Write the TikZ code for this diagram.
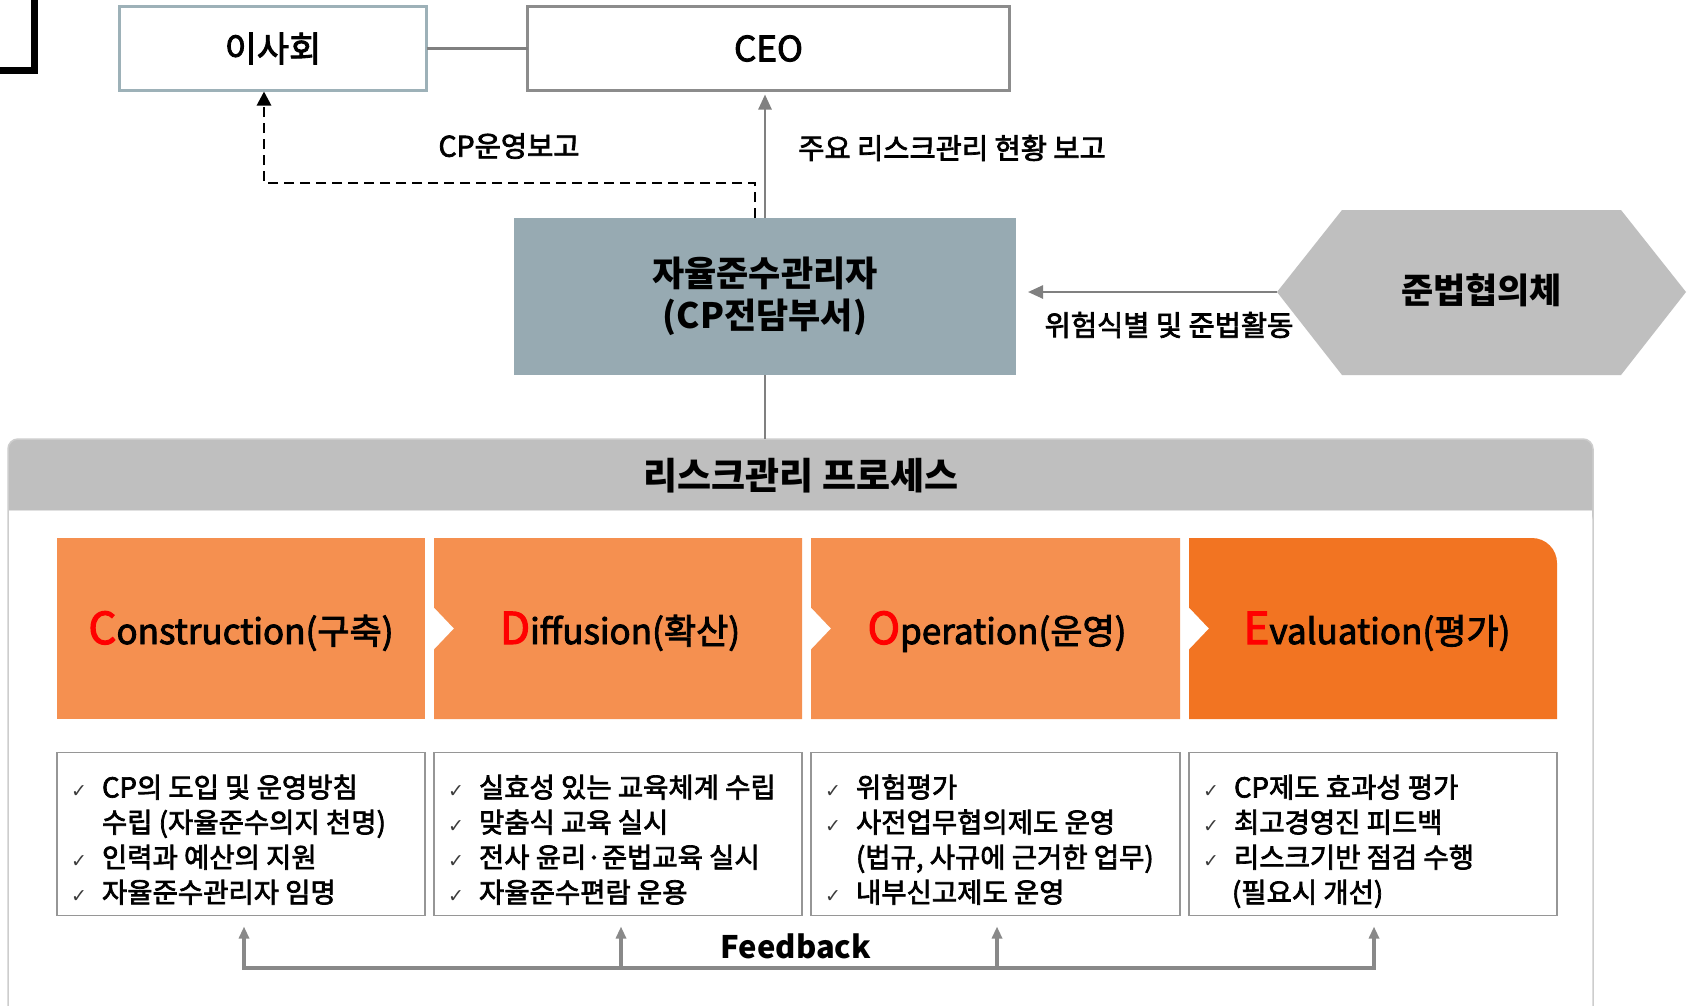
\documentclass[tikz,border=0pt]{standalone}
\usepackage{fontspec}
\setmainfont{Noto Sans CJK KR}
\newfontfamily\medfont[FakeBold=2.5]{Noto Sans CJK KR}
\newfontfamily\symfont{DejaVu Sans}
\usetikzlibrary{arrows.meta}
\newcommand{\setfs}[1]{\fontsize{#1}{#1}\selectfont}
\definecolor{boardline}{RGB}{157,177,184}
\definecolor{ceoline}{RGB}{140,140,140}
\definecolor{cpfill}{RGB}{151,170,178}
\definecolor{hexfill}{RGB}{191,191,191}
\definecolor{hdrfill}{RGB}{191,191,191}
\definecolor{orlight}{RGB}{245,144,80}
\definecolor{ordark}{RGB}{242,116,34}
\definecolor{arrowgray}{RGB}{128,128,128}
\definecolor{boxline}{RGB}{150,150,150}
\definecolor{panelline}{RGB}{205,205,205}
\definecolor{redletter}{RGB}{255,0,0}
\definecolor{checkgray}{RGB}{60,60,60}
\definecolor{fbgray}{RGB}{137,137,137}
\newcommand{\ck}[4]{\node[chk] (#1c) at (#2+14,#3) {✓}; \node[item] (#1) at (#2+45,#3) {#4};}
\newcommand{\rl}[1]{\textcolor{redletter}{\fontsize{44}{44}\selectfont #1}}
\begin{document}
\begin{tikzpicture}[x=1pt,y=-1pt,
  every node/.style={inner sep=0pt, outer sep=0pt},
  topbox/.style={draw, line width=3pt, minimum height=84pt, font=\medfont\setfs{35}},
  lbl/.style={font=\medfont\setfs{28.5}},
  grayln/.style={draw=arrowgray, line width=2.5pt},
  grayarr/.style={grayln, -{Triangle[length=15pt,width=13pt]}},
  dasharr/.style={draw=black, line width=2.8pt, dash pattern=on 10pt off 6pt, -{Triangle[length=14pt,width=14pt]}},
  title/.style={font=\medfont\setfs{35}, anchor=base},
  listbox/.style={draw=boxline, line width=1.5pt, minimum width=368pt, minimum height=163pt},
  item/.style={font=\medfont\setfs{27.5}, anchor=base west},
  chk/.style={font=\symfont\setfs{19}, text=checkgray, anchor=base west},
  fbln/.style={draw=fbgray, line width=3.5pt},
  fbtip/.style={-{Triangle[length=12pt,width=10pt]}},
]
\useasboundingbox (0,0) rectangle (1696,1005);
\clip (0,0) rectangle (1696,1005);
\fill[white] (0,0) rectangle (1696,1005);

% corner bracket
\draw[line width=7pt, line join=miter] (34,-10) -- (34,70.5) -- (-10,70.5);

% top boxes
\node[topbox, draw=boardline, minimum width=307pt] (board) at (273,48.5) {이사회};
\node[topbox, draw=ceoline, minimum width=482pt] (ceo) at (768.5,48.5) {CEO};
\draw[grayln] (board.east) -- (ceo.west);

% CP box
\node[fill=cpfill, minimum width=502pt, minimum height=157pt, align=center,
      font=\bfseries\fontsize{35}{42}\selectfont] (cp) at (765,296.5) {자율준수관리자\\(CP전담부서)};

% hexagon
\fill[hexfill] (1277,292) -- (1342,210) -- (1621,210) -- (1686,292) -- (1621,375) -- (1342,375) -- cycle;
\coordinate (hexL) at (1277,292);
\node[font=\bfseries\setfs{35}] (council) at (1481.5,290) {준법협의체};

% connectors top
\draw[grayarr, shorten >=4pt] (cp.north) -- (cp.north |- ceo.south);
\coordinate (dcorner) at (264,183);
\draw[dasharr, shorten >=1pt] ([xshift=-10pt]cp.north) |- (dcorner) -- (dcorner |- board.south);
\draw[grayarr, shorten >=12pt] (hexL) -- (hexL -| cp.east);
\node[lbl] (lblcp) at (509,146) {CP운영보고};
\node[lbl] (lblceo) at (952,148) {주요 리스크관리 현황 보고};
\node[lbl] (lblhex) at (1169,325) {위험식별 및 준법활동};

% process panel
\fill[hdrfill, rounded corners=10pt] (8,439) rectangle (1593,525);
\fill[white] (9,510) rectangle (1592,1020);
\draw[panelline, line width=1.5pt, rounded corners=10pt] (8,1020) -- (8,439) -- (1593,439) -- (1593,1020);
\draw[panelline!60, line width=1pt] (9,510.5) -- (1592,510.5);
\coordinate (hdrtop) at (765,439);
\draw[draw=arrowgray, line width=2pt] (cp.south) -- (hdrtop);
\node[font=\bfseries\setfs{37}] (hdr) at (801,476) {리스크관리 프로세스};

% stage boxes
\fill[orlight] (57,538) rectangle (425,719);
\fill[orlight] (434,538) -- (802,538) -- (802,719) -- (434,719) -- (434,649.5) -- (454,628.5) -- (434,607.5) -- cycle;
\fill[orlight] (811,538) -- (1180,538) -- (1180,719) -- (811,719) -- (811,649.5) -- (831,628.5) -- (811,607.5) -- cycle;
\fill[ordark] (1189,538) -- (1532,538) arc[start angle=-90, end angle=0, radius=25] -- (1557,719) -- (1189,719) -- (1189,649.5) -- (1209,628.5) -- (1189,607.5) -- cycle;
\node[title] (s1) at (241,644) {\rl{C}onstruction(구축)};
\node[title] (s2) at (620,644) {\rl{D}iffusion(확산)};
\node[title] (s3) at (997,644) {\rl{O}peration(운영)};
\node[title] (s4) at (1377,644) {\rl{E}valuation(평가)};

% list boxes
\node[listbox] (t1) at (241,834) {};
\node[listbox] (t2) at (618,834) {};
\node[listbox, minimum width=369pt] (t3) at (995.5,834) {};
\node[listbox] (t4) at (1373,834) {};

\ck{l1a}{57}{797.5}{CP의 도입 및 운영방침}
\node[item] (l1b) at (102,832.5) {수립 (자율준수의지 천명)};
\ck{l1c}{57}{867.5}{인력과 예산의 지원}
\ck{l1d}{57}{902.5}{자율준수관리자 임명}

\ck{l2a}{434}{797.5}{실효성 있는 교육체계 수립}
\ck{l2b}{434}{832.5}{맞춤식 교육 실시}
\ck{l2c}{434}{867.5}{전사 윤리·준법교육 실시}
\ck{l2d}{434}{902.5}{자율준수편람 운용}

\ck{l3a}{811}{797.5}{위험평가}
\ck{l3b}{811}{832.5}{사전업무협의제도 운영}
\node[item] (l3c) at (856,867.5) {(법규, 사규에 근거한 업무)};
\ck{l3d}{811}{902.5}{내부신고제도 운영}

\ck{l4a}{1189}{797.5}{CP제도 효과성 평가}
\ck{l4b}{1189}{832.5}{최고경영진 피드백}
\ck{l4c}{1189}{867.5}{리스크기반 점검 수행}
\node[item] (l4d) at (1232,902.5) {(필요시 개선)};

% feedback
\coordinate (f1) at (244,968);
\coordinate (f2) at (621,968);
\coordinate (f3) at (997,968);
\coordinate (f4) at (1374,968);
\draw[fbln, {Triangle[length=12pt,width=10pt]}-{Triangle[length=12pt,width=10pt]}, shorten <=11pt, shorten >=11pt]
  (f1 |- t1.south) -- (f1) -- (f4) -- (f4 |- t4.south);
\draw[fbln, fbtip, shorten >=11pt] (f2) -- (f2 |- t2.south);
\draw[fbln, fbtip, shorten >=11pt] (f3) -- (f3 |- t3.south);
\node[font=\bfseries\setfs{31}] (fb) at (796,946) {Feedback};
\end{tikzpicture}
\end{document}
